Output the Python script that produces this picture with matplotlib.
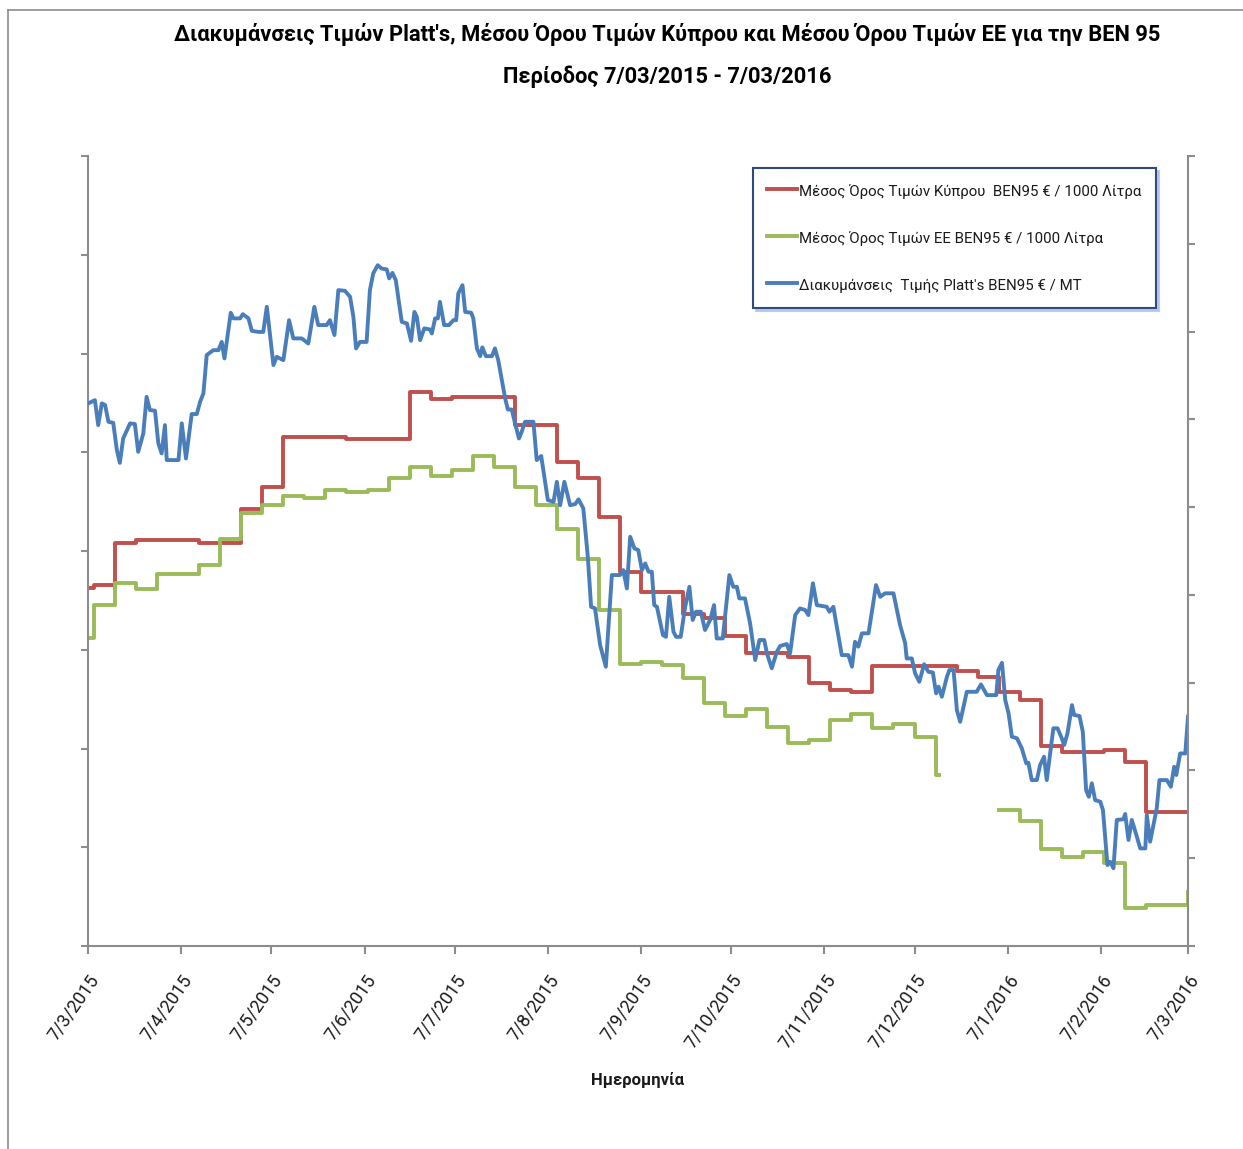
import matplotlib

matplotlib.use("Agg")
import matplotlib.pyplot as plt
import numpy as np
import pandas as pd
from matplotlib.lines import Line2D

plt.rcParams["font.family"] = ["Roboto", "DejaVu Sans"]

RED = "#C0504D"
GREEN = "#9BBB59"
BLUE = "#4A7EBB"
GRAY = "#8C8C8C"
LW = 2.8

START = pd.Timestamp("2015-03-07")
END = pd.Timestamp("2016-03-07")

# weekly average retail price in Cyprus, EUR / 1000 L
cy_dates = [
    "2015-03-07", "2015-03-09", "2015-03-16", "2015-03-23", "2015-04-13",
    "2015-04-27", "2015-05-04", "2015-05-11", "2015-06-01", "2015-06-22",
    "2015-06-29", "2015-07-06", "2015-07-27", "2015-08-10", "2015-08-17",
    "2015-08-24", "2015-08-31", "2015-09-07", "2015-09-21", "2015-09-28",
    "2015-10-05", "2015-10-12", "2015-10-26", "2015-11-02", "2015-11-09",
    "2015-11-16", "2015-11-23", "2015-12-21", "2015-12-28", "2016-01-04",
    "2016-01-11", "2016-01-18", "2016-01-25", "2016-02-08", "2016-02-15",
    "2016-02-22", "2016-03-07",
]
cy_values = [
    1181.5, 1183.0, 1204.1, 1205.5, 1204.3, 1221.5, 1232.4, 1257.7, 1256.9,
    1280.5, 1276.8, 1278.0, 1263.7, 1245.1, 1237.0, 1217.3, 1189.4, 1179.0,
    1168.0, 1166.3, 1157.0, 1148.4, 1146.4, 1133.2, 1129.6, 1128.7, 1141.7,
    1139.2, 1136.3, 1128.7, 1124.5, 1101.4, 1098.0, 1099.2, 1093.3, 1068.0,
    1068.0,
]

# weekly EU average price, EUR / 1000 L (no data over the holidays)
eu_dates = [
    "2015-03-07", "2015-03-09", "2015-03-16", "2015-03-23", "2015-03-30",
    "2015-04-13", "2015-04-20", "2015-04-27", "2015-05-04", "2015-05-11",
    "2015-05-18", "2015-05-25", "2015-06-01", "2015-06-08", "2015-06-15",
    "2015-06-22", "2015-06-29", "2015-07-06", "2015-07-13", "2015-07-20",
    "2015-07-27", "2015-08-03", "2015-08-10", "2015-08-17", "2015-08-24",
    "2015-08-31", "2015-09-07", "2015-09-14", "2015-09-21", "2015-09-28",
    "2015-10-05", "2015-10-12", "2015-10-19", "2015-10-26", "2015-11-02",
    "2015-11-09", "2015-11-16", "2015-11-23", "2015-11-30", "2015-12-07",
    "2015-12-14", "2015-12-15", "2016-01-04", "2016-01-11", "2016-01-18",
    "2016-01-25", "2016-02-01", "2016-02-08", "2016-02-15", "2016-02-22",
    "2016-03-07",
]
eu_values = [
    1156.2, 1172.6, 1183.6, 1180.7, 1188.6, 1192.8, 1206.3, 1219.0, 1223.5,
    1227.7, 1226.6, 1230.8, 1229.9, 1231.1, 1237.2, 1242.6, 1237.9, 1240.9,
    1248.1, 1242.6, 1232.4, 1223.2, 1210.9, 1196.2, 1170.0, 1142.7, 1143.6,
    1142.2, 1135.5, 1122.8, 1116.4, 1119.9, 1110.7, 1102.6, 1104.3, 1114.4,
    1117.4, 1110.2, 1112.2, 1105.9, 1086.5, np.nan, 1068.8, 1063.3, 1048.9,
    1045.2, 1047.4, 1041.9, 1019.1, 1020.7, 1027.5,
]

# Platt's BEN95 quotes, EUR / MT, days counted from 7/3/2015
platts_days = [
    0.1, 2.3, 3.4, 4.6, 5.7, 6.8, 8.4, 9.6, 10.6, 11.7,
    14.0, 15.6, 16.7, 18.4, 19.5, 20.6, 22.3, 23.4, 24.5, 25.6,
    26.2, 30.1, 31.2, 32.6, 34.5, 36.2, 37.3, 38.4, 39.5, 41.7,
    43.4, 44.5, 45.4, 47.5, 48.4, 50.6, 51.5, 53.4, 54.5, 56.7,
    58.3, 59.5, 61.7, 62.8, 65.0, 66.9, 68.3, 71.1, 73.3, 75.3,
    76.6, 79.4, 80.5, 82.0, 83.3, 85.5, 87.2, 88.3, 89.2, 90.5,
    92.7, 93.8, 94.9, 96.4, 97.7, 99.4, 100.2, 101.3, 102.4, 104.4,
    106.1, 107.5, 108.6, 109.4, 110.5, 111.9, 113.8, 114.4, 115.5, 116.4,
    117.1, 118.5, 120.1, 121.6, 122.5, 123.2, 124.6, 125.5, 127.5, 128.2,
    129.4, 130.5, 131.2, 132.4, 134.4, 135.4, 136.5, 138.8, 139.7, 141.0,
    142.1, 143.4, 144.3, 145.4, 148.2, 149.3, 150.8, 153.0, 154.9, 156.0,
    157.1, 158.5, 160.4, 162.1, 163.2, 164.8, 166.3, 167.4, 168.7, 170.4,
    172.3, 174.3, 177.0, 178.1, 179.3, 180.4, 181.8, 183.1, 184.3, 185.4,
    186.5, 187.6, 188.4, 189.3, 191.3, 192.3, 193.4, 194.8, 195.7, 197.2,
    198.7, 200.1, 201.2, 202.3, 203.9, 205.3, 207.0, 208.3, 209.2, 211.2,
    213.4, 214.7, 215.9, 216.7, 218.6, 220.3, 222.0, 223.4, 225.0, 225.9,
    227.5, 229.2, 230.3, 232.5, 233.6, 234.2, 235.3, 236.9, 238.6, 239.7,
    241.2, 242.5, 245.8, 246.7, 248.0, 250.8, 253.0, 254.2, 255.2, 256.3,
    257.5, 259.7, 262.2, 263.6, 265.2, 268.0, 270.2, 271.9, 272.4, 274.1,
    275.2, 276.6, 278.2, 279.6, 281.1, 282.2, 283.0, 284.1, 285.8, 286.6,
    288.0, 289.1, 290.2, 292.4, 295.7, 297.1, 299.1, 302.2, 302.9, 304.1,
    305.2, 306.3, 307.4, 309.1, 310.7, 312.2, 312.9, 314.0, 315.7, 316.8,
    318.1, 319.0, 321.2, 322.6, 324.0, 324.8, 325.9, 327.4, 328.1, 329.9,
    331.0, 332.1, 333.0, 334.0, 335.1, 336.8, 337.7, 339.2, 340.1, 341.2,
    342.3, 344.5, 345.1, 346.2, 347.3, 349.0, 350.1, 351.8, 352.3, 353.4,
    355.6, 356.5, 359.0, 360.3, 361.4, 362.1, 363.4, 365.1, 366.0,
]
platts_values = [
    609.1, 610.9, 596.7, 609.1, 608.1, 598.6, 598.0, 582.5, 575.2, 589.1,
    597.7, 597.3, 581.5, 592.0, 612.8, 605.3, 604.9, 586.3, 580.6, 596.7,
    576.8, 576.8, 597.7, 577.7, 603.0, 603.0, 610.0, 614.8, 636.6, 639.4,
    639.4, 644.1, 634.7, 660.7, 657.5, 657.5, 659.9, 657.5, 650.4, 649.8,
    649.8, 664.1, 630.9, 635.6, 633.7, 656.5, 646.1, 646.1, 643.2, 664.1,
    653.7, 653.7, 656.5, 648.0, 673.6, 673.2, 669.8, 658.4, 640.4, 644.1,
    644.1, 673.6, 683.1, 687.8, 685.9, 685.4, 680.3, 683.4, 679.3, 655.5,
    654.6, 644.7, 661.2, 658.4, 645.1, 651.8, 651.2, 648.9, 657.5, 657.5,
    666.9, 653.7, 653.7, 656.5, 656.5, 671.7, 676.4, 661.2, 660.7, 657.5,
    640.4, 636.0, 641.0, 636.0, 636.0, 640.4, 633.7, 611.9, 605.6, 605.6,
    597.7, 589.1, 592.9, 598.6, 598.6, 576.8, 579.1, 554.0, 553.0, 564.4,
    551.1, 564.4, 551.1, 551.7, 554.4, 549.3, 521.7, 493.2, 492.3, 471.4,
    459.1, 511.3, 511.3, 514.1, 503.7, 533.1, 526.5, 525.5, 514.1, 517.9,
    513.2, 513.2, 494.2, 493.2, 477.1, 476.1, 498.9, 479.0, 476.1, 476.1,
    493.2, 504.6, 485.7, 490.4, 490.4, 480.0, 485.7, 494.2, 475.2, 475.2,
    511.3, 504.6, 504.6, 498.0, 498.0, 483.8, 462.9, 474.3, 474.3, 466.7,
    458.2, 467.6, 470.9, 472.0, 466.7, 474.3, 488.5, 492.3, 491.4, 488.5,
    506.6, 494.2, 493.2, 490.4, 493.2, 465.7, 465.7, 459.1, 473.3, 470.5,
    478.1, 478.1, 505.6, 498.9, 500.9, 500.9, 482.8, 472.4, 463.8, 463.8,
    455.3, 450.5, 460.5, 456.2, 455.8, 443.9, 447.7, 442.0, 453.4, 457.2,
    457.2, 434.4, 427.7, 444.8, 444.8, 449.0, 442.9, 442.9, 457.2, 461.3,
    440.1, 432.5, 419.2, 418.3, 412.6, 404.0, 404.4, 394.5, 394.5, 403.1,
    407.8, 394.5, 424.0, 424.0, 418.3, 414.5, 421.1, 437.2, 431.6, 431.0,
    422.0, 388.8, 385.0, 392.7, 383.1, 382.2, 377.5, 346.1, 348.0, 344.3,
    371.8, 372.2, 375.2, 360.4, 371.8, 362.2, 355.6, 355.6, 374.6, 359.4,
    378.4, 394.5, 394.5, 390.7, 402.1, 397.4, 409.7, 409.7, 430.6,
]

tick_labels = [
    "7/3/2015", "7/4/2015", "7/5/2015", "7/6/2015", "7/7/2015", "7/8/2015",
    "7/9/2015", "7/10/2015", "7/11/2015", "7/12/2015", "7/1/2016",
    "7/2/2016", "7/3/2016",
]

series_labels = [
    "Μέσος Όρος Τιμών Κύπρου  BEN95 € / 1000 Λίτρα",
    "Μέσος Όρος Τιμών ΕΕ BEN95 € / 1000 Λίτρα",
    "Διακυμάνσεις  Τιμής Platt's BEN95 € / MT",
]

W, H = 1243, 1149
fig = plt.figure(figsize=(W / 100, H / 100), dpi=100)
ax = fig.add_axes([88 / W, 1 - 946 / H, 1100 / W, 790 / H])
ax2 = ax.twinx()

cy_line, = ax.plot(pd.to_datetime(cy_dates), cy_values, color=RED, lw=LW,
                   drawstyle="steps-post")
eu_line, = ax.plot(pd.to_datetime(eu_dates), eu_values, color=GREEN, lw=LW,
                   drawstyle="steps-post")
platts_dates = START + pd.to_timedelta(platts_days, unit="D")
pl_line, = ax2.plot(platts_dates, platts_values, color=BLUE, lw=LW)

ax.set_xlim(START, END)
ax.set_ylim(1000, 1400)
ax2.set_ylim(300, 750)
ax.set_yticks(np.arange(1000, 1401, 50))
ax2.set_yticks(np.arange(300, 751, 50))

tick_dates = pd.to_datetime(tick_labels, format="%d/%m/%Y")
ax.set_xticks(tick_dates)
ax.set_xticklabels(tick_labels, rotation=55, ha="right", va="top",
                   rotation_mode="anchor", fontsize=13, color="#1a1a1a")

for a in (ax, ax2):
    a.spines["top"].set_visible(False)
    for s in a.spines.values():
        s.set_color(GRAY)
        s.set_linewidth(1.5)
ax.spines["right"].set_visible(False)
ax2.spines["left"].set_visible(False)
ax2.spines["bottom"].set_visible(False)

ax.tick_params(axis="y", labelleft=False, length=5, width=1.5, color=GRAY)
ax2.tick_params(axis="y", labelright=False, length=5, width=1.5, color=GRAY)
ax.tick_params(axis="x", length=6, width=1.5, color=GRAY, pad=12)

leg = ax2.legend(
    [cy_line, eu_line, pl_line], series_labels,
    loc="upper left", bbox_to_anchor=(0.6045, 0.9848),
    bbox_transform=ax.transAxes, borderaxespad=0,
    fontsize=10.8, handlelength=2.0, handleheight=1.5, handletextpad=0.13,
    labelspacing=1.9, borderpad=0.95, fancybox=False, framealpha=1,
    edgecolor="#2E4A7E", shadow={"color": "#AFC2E0", "alpha": 0.8},
)
leg.get_frame().set_linewidth(1.5)
for t in leg.get_texts():
    t.set_color("#1a1a1a")

fig.text(638 / W, 1 - 1080 / H, "Ημερομηνία", ha="center", va="center",
         fontsize=12, fontweight="bold", color="#1a1a1a")

t1 = fig.text(667 / W, 1 - 35 / H,
              "Διακυμάνσεις Τιμών Platt's, Μέσου Όρου Τιμών Κύπρου και "
              "Μέσου Όρου Τιμών ΕΕ για την BEN 95",
              ha="center", va="center", fontsize=17, fontweight="bold")
t2 = fig.text(667 / W, 1 - 77 / H, "Περίοδος 7/03/2015 - 7/03/2016",
              ha="center", va="center", fontsize=17, fontweight="bold")

# scale the title so its first line spans the same width as the original
fig.canvas.draw()
scale = 985 / t1.get_window_extent().width
for t in (t1, t2):
    t.set_fontsize(t.get_fontsize() * scale)

# outer chart frame
fig.add_artist(Line2D([8 / W, 8 / W], [0, 1 - 10 / H], color=GRAY, lw=1.2))
fig.add_artist(Line2D([8 / W, 1], [1 - 10 / H, 1 - 10 / H], color=GRAY, lw=1.2))

fig.savefig("out.png", dpi=100)
